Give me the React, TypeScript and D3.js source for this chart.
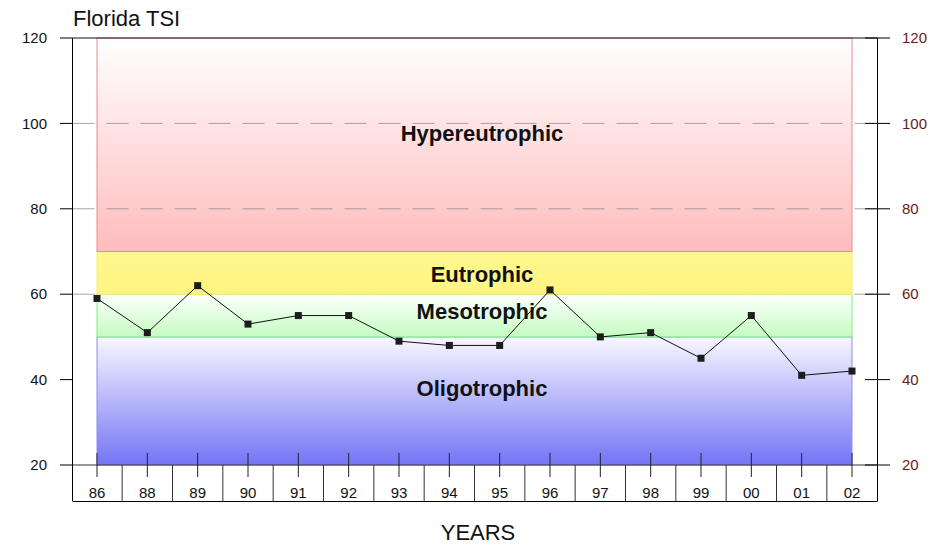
import React from "react";
import * as d3 from "d3";

const years = ["86", "88", "89", "90", "91", "92", "93", "94", "95", "96", "97", "98", "99", "00", "01", "02"];
const tsi = [59, 51, 62, 53, 55, 55, 49, 48, 48, 61, 50, 51, 45, 55, 41, 42];
const yTicks = [20, 40, 60, 80, 100, 120];
const gridUnder = [60];
const gridOver = [80, 100];
const bandNames = ["Oligotrophic", "Mesotrophic", "Eutrophic", "Hypereutrophic"];
const bandLow = [20, 50, 60, 70];
const bandHigh = [50, 60, 70, 120];
const bandLabelAt = [38, 56, 64.7, 97.7];

const W = 932, H = 546;
const left = 72.5, right = 877.5, top = 38, bottom = 465;

export default function App() {
  const x = d3.scalePoint<string>().domain(years).range([97, 852]);
  const y = d3.scaleLinear().domain([20, 120]).range([bottom, top]);
  const step = x.step();
  const line = d3.line<number>().x((_, i) => x(years[i])!).y((d) => y(d));
  const x0 = x(years[0])!, x1 = x(years[years.length - 1])!;
  const font = "'Liberation Sans', Arial, Helvetica, sans-serif";

  const fills = ["url(#gOligo)", "url(#gMeso)", "url(#gEu)", "url(#gHyper)"];
  const strokes = ["#8c8cf4", "#7cf07c", "#f0f070", "#f08a8a"];

  const grid = (v: number) => (
    <line key={"g" + v} x1={left} x2={right} y1={y(v)} y2={y(v)} stroke="#8a8a8a" strokeWidth={1} strokeDasharray="22,12" opacity={0.75} />
  );

  return (
    <svg width={W} height={H} style={{ position: "absolute", left: 0, top: 0, background: "#fff" }} fontFamily={font}>
      <defs>
        <linearGradient id="gHyper" x1="0" y1="0" x2="0" y2="1">
          <stop offset="0" stopColor="#ffffff" />
          <stop offset="1" stopColor="#ffbcbe" />
        </linearGradient>
        <linearGradient id="gEu" x1="0" y1="0" x2="0" y2="1">
          <stop offset="0" stopColor="#fff890" />
          <stop offset="1" stopColor="#fff480" />
        </linearGradient>
        <linearGradient id="gMeso" x1="0" y1="0" x2="0" y2="1">
          <stop offset="0" stopColor="#ffffff" />
          <stop offset="1" stopColor="#c4fcc0" />
        </linearGradient>
        <linearGradient id="gOligo" x1="0" y1="0" x2="0" y2="1">
          <stop offset="0" stopColor="#f8f8ff" />
          <stop offset="1" stopColor="#7474f6" />
        </linearGradient>
      </defs>

      {gridUnder.map(grid)}

      {bandNames.map((n, i) => (
        <rect key={n} x={x0} width={x1 - x0} y={y(bandHigh[i])} height={y(bandLow[i]) - y(bandHigh[i])}
          fill={fills[i]} stroke={strokes[i]} strokeWidth={1} />
      ))}

      {gridOver.map(grid)}

      {/* top frame */}
      <line x1={left} x2={right} y1={top} y2={top} stroke="#111" strokeWidth={1} />
      {/* bottom baseline */}
      <line x1={left} x2={right} y1={bottom} y2={bottom} stroke="#333" strokeWidth={1} />

      {/* left axis */}
      <line x1={left} x2={left} y1={top} y2={501} stroke="#000" strokeWidth={1} />
      {yTicks.map((t) => (
        <g key={"l" + t}>
          <line x1={60} x2={left} y1={y(t)} y2={y(t)} stroke="#000" />
          <text x={47} y={y(t)} dy="0.35em" textAnchor="end" fontSize={15} fill="#111">{t}</text>
        </g>
      ))}

      {/* right axis */}
      <line x1={right} x2={right} y1={top} y2={501} stroke="#000" strokeWidth={1} />
      {yTicks.map((t) => (
        <g key={"r" + t}>
          <line x1={865} x2={890} y1={y(t)} y2={y(t)} stroke="#000" />
          <text x={902} y={y(t)} dy="0.35em" textAnchor="start" fontSize={15} fill="#6a1a1a">{t}</text>
        </g>
      ))}

      {/* bottom table */}
      <line x1={left} x2={right} y1={501.5} y2={501.5} stroke="#000" />
      {years.slice(1).map((yr) => (
        <line key={"s" + yr} x1={x(yr)! - step / 2} x2={x(yr)! - step / 2} y1={bottom} y2={501.5} stroke="#333" />
      ))}
      {years.map((yr) => (
        <g key={"t" + yr}>
          <line x1={x(yr)!} x2={x(yr)!} y1={453} y2={477} stroke="#222" />
          <text x={x(yr)!} y={498} textAnchor="middle" fontSize={15} fill="#111">{yr}</text>
        </g>
      ))}

      {/* band labels */}
      {bandNames.map((n, i) => (
        <text key={"bl" + n} x={482} y={y(bandLabelAt[i])} dy="0.35em" textAnchor="middle" fontSize={22} fontWeight="bold" fill="#111">{n}</text>
      ))}

      {/* data line */}
      <path d={line(tsi) || ""} fill="none" stroke="#111" strokeWidth={1} />
      {tsi.map((v, i) => (
        <rect key={"m" + i} x={x(years[i])! - 3.5} y={y(v) - 3.5} width={7} height={7} fill="#1c1c1c" />
      ))}

      <text x={73} y={26} fontSize={22} fill="#111">Florida TSI</text>
      <text x={478} y={540} textAnchor="middle" fontSize={22} fill="#111">YEARS</text>
    </svg>
  );
}
